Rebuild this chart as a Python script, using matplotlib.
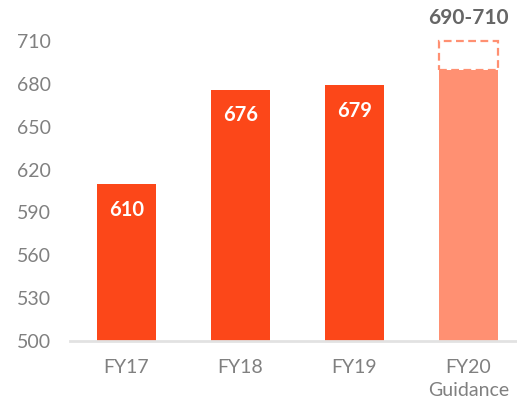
"""Revenue bar chart with FY20 guidance range."""

import matplotlib

matplotlib.use("Agg")
import matplotlib.pyplot as plt
from matplotlib.patches import Rectangle

categories = ["FY17", "FY18", "FY19", "FY20\nGuidance"]
values = [610, 676, 679, 690]
guidance_low = 690
guidance_high = 710
value_labels = ["610", "676", "679"]
range_label = "690-710"
y_ticks = [500, 530, 560, 590, 620, 650, 680, 710]

BAR_COLOR = "#FC4719"
GUIDE_COLOR = "#FF9072"
TICK_COLOR = "#808080"

plt.rcParams["font.family"] = ["Lato", "DejaVu Sans"]

fig = plt.figure(figsize=(5.17, 4.0), dpi=100)
ax = fig.add_axes([70 / 517, 1 - 341 / 400, 1 - 70 / 517, (341 - 41) / 400])

x = list(range(len(categories)))
colors = [BAR_COLOR] * (len(categories) - 1) + [GUIDE_COLOR]
width = 0.52
ax.bar(x, [v - 500 for v in values], bottom=500, width=width, color=colors, zorder=2)

# dashed outline for the upper part of the guidance range
ax.add_patch(
    Rectangle(
        (x[-1] - width / 2, guidance_low),
        width,
        guidance_high - guidance_low,
        fill=False,
        edgecolor=GUIDE_COLOR,
        linestyle=(0, (3.5, 2)),
        linewidth=1.6,
        clip_on=False,
        zorder=3,
    )
)

for xi, v, lab in zip(x, values, value_labels):
    ax.text(xi, v - 18, lab, ha="center", va="center", color="white",
            fontsize=14.5, fontweight="bold")
ax.text(x[-1], guidance_high + 16, range_label, ha="center", va="center",
        color="#666666", fontsize=15, fontweight="bold", clip_on=False)

ax.set_ylim(500, 710)
ax.set_xlim(-0.496, 3.425)
ax.set_yticks(y_ticks)
ax.set_xticks(x)
ax.set_xticklabels(categories, linespacing=1.45)
ax.tick_params(axis="y", length=0, pad=14, labelsize=14, labelcolor=TICK_COLOR)
ax.tick_params(axis="x", length=0, pad=13, labelsize=14, labelcolor=TICK_COLOR)

for side in ["top", "right", "left"]:
    ax.spines[side].set_visible(False)
ax.spines["bottom"].set_color("#E2E2E2")
ax.spines["bottom"].set_linewidth(2)

fig.savefig("out.png", dpi=100)
